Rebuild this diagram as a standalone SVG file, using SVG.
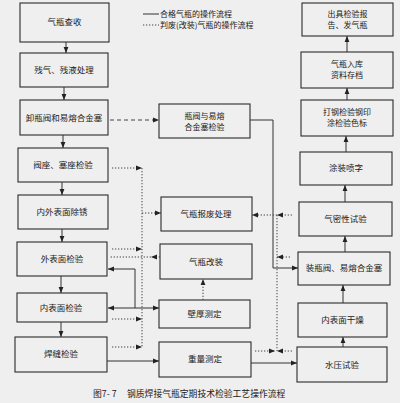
<svg xmlns="http://www.w3.org/2000/svg" width="400" height="403" viewBox="0 0 400 403">
<defs>
<style>
.bx{fill:none;stroke:#2a2a2a;stroke-width:1.1}
.t{font-family:"Noto Sans CJK SC","Noto Sans CJK TC",sans-serif;font-size:8.5px;fill:#1a1a1a;text-anchor:middle}
.t2{font-family:"Noto Sans CJK SC","Noto Sans CJK TC",sans-serif;font-size:8px;fill:#1a1a1a;text-anchor:middle}
.lg{font-family:"Noto Sans CJK SC",sans-serif;font-size:8px;fill:#1a1a1a}
.cap{font-family:"Noto Sans CJK SC",sans-serif;font-size:8.8px;fill:#1a1a1a}
.s{fill:none;stroke:#333;stroke-width:1}
.d{fill:none;stroke:#444;stroke-width:1;stroke-dasharray:1.3,1.7}
.ds{fill:none;stroke:#444;stroke-width:1;stroke-dasharray:4,3}
</style>
<marker id="a" viewBox="0 0 10 10" refX="10" refY="5" markerWidth="6" markerHeight="6" orient="auto" markerUnits="userSpaceOnUse"><path d="M0,1 L10,5 L0,9 z" fill="#222"/></marker>
</defs>
<rect width="400" height="403" fill="#efefef"/>

<g id="legend">
<line class="s" x1="143" y1="14" x2="159" y2="14"/>
<text class="lg" x="160" y="17">合格气瓶的操作流程</text>
<line class="d" x1="143" y1="25" x2="159" y2="25"/>
<text class="lg" x="160" y="28">判废(改装)气瓶的操作流程</text>
</g>

<g id="n1"><rect class="bx" x="20" y="3" width="89" height="39"/><text class="t" x="64.5" y="25">气瓶查收</text></g>
<g id="n2"><rect class="bx" x="20" y="53" width="88" height="34"/><text class="t" x="64" y="73">残气、残液处理</text></g>
<g id="n3"><rect class="bx" x="20" y="100" width="88" height="35"/><text class="t" x="64" y="121">卸瓶阀和易熔合金塞</text></g>
<g id="n4"><rect class="bx" x="18" y="148" width="90" height="34"/><text class="t" x="63" y="168">阀座、塞座检验</text></g>
<g id="n5"><rect class="bx" x="18" y="195" width="90" height="34"/><text class="t" x="62" y="215">内外表面除锈</text></g>
<g id="n6"><rect class="bx" x="17" y="242" width="90" height="34"/><text class="t" x="62" y="262">外表面检验</text></g>
<g id="n7"><rect class="bx" x="17" y="293" width="90" height="29"/><text class="t" x="61" y="311">内表面检验</text></g>
<g id="n8"><rect class="bx" x="15" y="337" width="92" height="35"/><text class="t" x="61" y="357">焊缝检验</text></g>

<g id="m1"><rect class="bx" x="159" y="104" width="91" height="34"/><text class="t2" x="204.5" y="118.5">瓶阀与易熔</text><text class="t2" x="204.5" y="129.5">合金塞检验</text></g>
<g id="m2"><rect class="bx" x="161" y="197" width="91" height="34"/><text class="t" x="206" y="217">气瓶报废处理</text></g>
<g id="m3"><rect class="bx" x="160" y="244" width="92" height="35"/><text class="t" x="206" y="265">气瓶改装</text></g>
<g id="m4"><rect class="bx" x="159" y="300" width="91" height="28"/><text class="t" x="204.5" y="317">壁厚测定</text></g>
<g id="m5"><rect class="bx" x="159" y="342" width="92" height="35"/><text class="t" x="205" y="362">重量测定</text></g>

<g id="r1"><rect class="bx" x="302" y="3" width="91" height="33"/><text class="t2" x="347.5" y="17">出具检验报</text><text class="t2" x="347.5" y="28">告、发气瓶</text></g>
<g id="r2"><rect class="bx" x="301" y="52" width="92" height="36"/><text class="t2" x="347" y="67">气瓶入库</text><text class="t2" x="347" y="78">资料存档</text></g>
<g id="r3"><rect class="bx" x="301" y="100" width="92" height="36"/><text class="t2" x="347" y="115">打钢检验钢印</text><text class="t2" x="347" y="126">涂检验色标</text></g>
<g id="r4"><rect class="bx" x="300" y="152" width="92" height="33"/><text class="t" x="346" y="171">涂装喷字</text></g>
<g id="r5"><rect class="bx" x="299" y="202" width="93" height="34"/><text class="t" x="345.5" y="222">气密性试验</text></g>
<g id="r6"><rect class="bx" x="298" y="252" width="92" height="33"/><text class="t" x="344" y="271">装瓶阀、易熔合金塞</text></g>
<g id="r7"><rect class="bx" x="298" y="303" width="89" height="34"/><text class="t" x="342.5" y="323">内表面干燥</text></g>
<g id="r8"><rect class="bx" x="297" y="347" width="90" height="35"/><text class="t" x="342" y="368">水压试验</text></g>

<g id="connectors">
<line class="s" x1="66" y1="42" x2="66" y2="53" marker-end="url(#a)"/>
<line class="s" x1="64" y1="87" x2="64" y2="100" marker-end="url(#a)"/>
<line class="s" x1="63" y1="135" x2="63" y2="148" marker-end="url(#a)"/>
<line class="s" x1="62" y1="182" x2="62" y2="195" marker-end="url(#a)"/>
<line class="s" x1="62" y1="229" x2="62" y2="242" marker-end="url(#a)"/>
<line class="s" x1="61" y1="276" x2="61" y2="293" marker-end="url(#a)"/>
<line class="s" x1="61" y1="322" x2="61" y2="337" marker-end="url(#a)"/>
<line class="ds" x1="110" y1="120" x2="159" y2="120" marker-end="url(#a)"/>
<path class="s" d="M250,120 H273 V268 H298" marker-end="url(#a)"/>
<line class="s" x1="135" y1="308" x2="108" y2="308" marker-end="url(#a)"/>
<line class="s" x1="135" y1="308" x2="159" y2="308" marker-end="url(#a)"/>
<path class="s" d="M135,308 V269 H108" marker-end="url(#a)"/>
<line class="s" x1="107" y1="361" x2="159" y2="361" marker-end="url(#a)"/>
<line class="s" x1="251" y1="363" x2="297" y2="363" marker-end="url(#a)"/>
<line class="s" x1="343" y1="347" x2="343" y2="337" marker-end="url(#a)"/>
<line class="s" x1="343" y1="303" x2="343" y2="285" marker-end="url(#a)"/>
<line class="s" x1="345" y1="252" x2="345" y2="236" marker-end="url(#a)"/>
<line class="s" x1="345" y1="202" x2="345" y2="185" marker-end="url(#a)"/>
<line class="s" x1="346" y1="152" x2="346" y2="136" marker-end="url(#a)"/>
<line class="s" x1="347" y1="100" x2="347" y2="88" marker-end="url(#a)"/>
<line class="s" x1="347" y1="52" x2="347" y2="36" marker-end="url(#a)"/>

<line class="d" x1="142" y1="168" x2="142" y2="347"/>
<line class="d" x1="112" y1="168" x2="142" y2="168" marker-end="url(#a)"/>
<line class="d" x1="112" y1="249" x2="142" y2="249" marker-end="url(#a)"/>
<line class="d" x1="112" y1="319" x2="142" y2="319" marker-end="url(#a)"/>
<line class="d" x1="112" y1="347" x2="142" y2="347" marker-end="url(#a)"/>
<line class="d" x1="142" y1="213" x2="161" y2="213" marker-end="url(#a)"/>
<line class="d" x1="160" y1="257" x2="151" y2="257" marker-end="url(#a)"/>
<line class="d" x1="151" y1="257" x2="109" y2="257"/>
<line class="d" x1="203" y1="300" x2="203" y2="279" marker-end="url(#a)"/>
<line class="d" x1="277" y1="215" x2="277" y2="351"/>
<line class="d" x1="292" y1="215" x2="277" y2="215" marker-end="url(#a)"/>
<line class="d" x1="277" y1="215" x2="252" y2="215" marker-end="url(#a)"/>
<line class="d" x1="290" y1="257" x2="277" y2="257" marker-end="url(#a)"/>
<line class="d" x1="255" y1="351" x2="275" y2="351" marker-end="url(#a)"/>
<line class="d" x1="292" y1="351" x2="277" y2="351" marker-end="url(#a)"/>
</g>

<g id="caption">
<text class="cap" x="93" y="397" xml:space="preserve">图7- 7</text>
<text class="cap" x="127" y="397">钢质焊接气瓶定期技术检验工艺操作流程</text>
</g>
</svg>
